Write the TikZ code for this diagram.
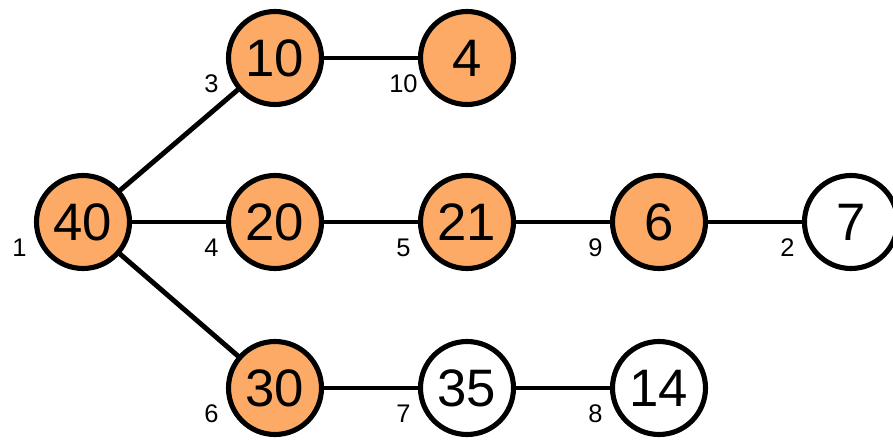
\documentclass[tikz,border=0pt]{standalone}
\usepackage{fontspec}
\setmainfont{Liberation Sans}
\definecolor{heapfill}{RGB}{253,170,102}
\tikzset{
  key/.style={circle,draw=black,line width=2.9pt,minimum size=1.86cm,inner sep=0pt,
    font=\fontsize{30}{36}\selectfont},
  hot/.style={key,fill=heapfill},
  cold/.style={key,fill=white},
  idx/.style={font=\fontsize{14.5}{16}\selectfont,inner sep=0pt},
  link/.style={line width=2.8pt}
}
\begin{document}
\begin{tikzpicture}[line cap=round,line join=round]
  \useasboundingbox (0,0) rectangle (17.86,8.8);
  % the tree, one row per level
  \node[hot]  (k40) at (1.66,4.36)  {40};
  \node[hot]  (k10) at (5.50,7.64)  {10};
  \node[hot]  (k4)  at (9.34,7.64)  {4};
  \node[hot]  (k20) at (5.50,4.36)  {20};
  \node[hot]  (k21) at (9.34,4.36)  {21};
  \node[hot]  (k6)  at (13.18,4.36) {6};
  \node[cold] (k7)  at (17.02,4.36) {7};
  \node[hot]  (k30) at (5.50,1.04)  {30};
  \node[cold] (k35) at (9.34,1.04)  {35};
  \node[cold] (k14) at (13.18,1.04) {14};
  \draw[link] (k40) -- (k10);
  \draw[link] (k40) -- (k20);
  \draw[link] (k40) -- (k30);
  \draw[link] (k10) -- (k4);
  \draw[link] (k20) -- (k21);
  \draw[link] (k21) -- (k6);
  \draw[link] (k6)  -- (k7);
  \draw[link] (k30) -- (k35);
  \draw[link] (k35) -- (k14);
  % position numbers
  \node[idx] (i40) at ([shift={(-1.27,-0.52)}]k40) {1};
  \node[idx] (i10) at ([shift={(-1.27,-0.52)}]k10) {3};
  \node[idx] (i4)  at ([shift={(-1.27,-0.52)}]k4)  {10};
  \node[idx] (i20) at ([shift={(-1.27,-0.52)}]k20) {4};
  \node[idx] (i21) at ([shift={(-1.27,-0.52)}]k21) {5};
  \node[idx] (i6)  at ([shift={(-1.27,-0.52)}]k6)  {9};
  \node[idx] (i7)  at ([shift={(-1.27,-0.52)}]k7)  {2};
  \node[idx] (i30) at ([shift={(-1.27,-0.52)}]k30) {6};
  \node[idx] (i35) at ([shift={(-1.27,-0.52)}]k35) {7};
  \node[idx] (i14) at ([shift={(-1.27,-0.52)}]k14) {8};
\end{tikzpicture}
\end{document}
